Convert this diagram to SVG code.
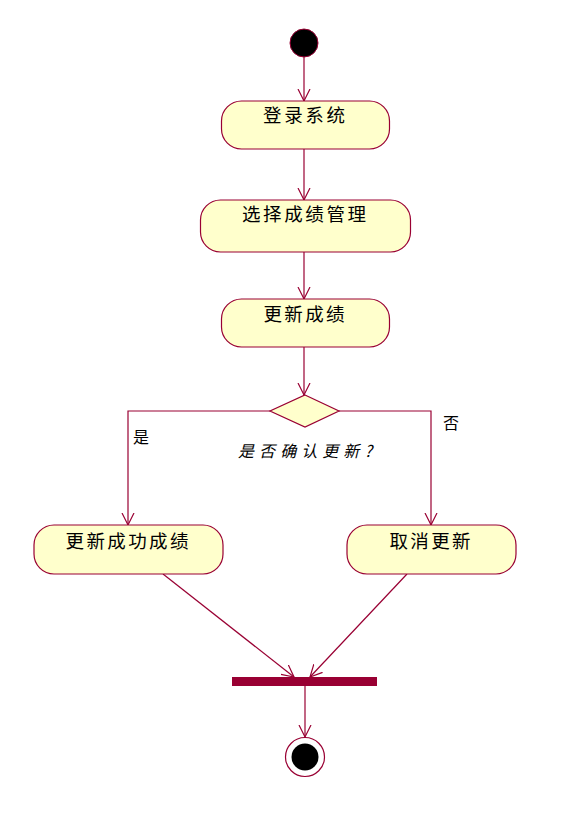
<svg xmlns="http://www.w3.org/2000/svg" width="572" height="825" viewBox="0 0 572 825">
<defs>
<style>
.act{fill:#ffffcc;stroke:#990033;stroke-width:1.2}
.lbl{font-family:"Noto Sans CJK SC","Noto Sans",sans-serif;font-size:18.5px;fill:#000;text-anchor:middle}
.g{font-family:"Noto Sans CJK SC","Noto Sans",sans-serif;font-size:16px;fill:#000}
.ln{fill:none;stroke:#990033;stroke-width:1.2}
</style>
<marker id="arr" markerWidth="16" markerHeight="16" refX="12" refY="6" orient="auto" markerUnits="userSpaceOnUse" viewBox="0 0 16 12">
<path d="M0,0 L12,6 L0,12" fill="none" stroke="#990033" stroke-width="1.2"/>
</marker>
</defs>
<rect width="572" height="825" fill="#fff"/>
<g id="connectors">
<line class="ln" x1="304" y1="57" x2="304" y2="101" marker-end="url(#arr)"/>
<line class="ln" x1="304" y1="149" x2="304" y2="200" marker-end="url(#arr)"/>
<line class="ln" x1="304" y1="252" x2="304" y2="299" marker-end="url(#arr)"/>
<line class="ln" x1="304" y1="347" x2="304" y2="395" marker-end="url(#arr)"/>
<polyline class="ln" points="270,411 128,411 128,525" marker-end="url(#arr)"/>
<polyline class="ln" points="339,411 431,411 431,525" marker-end="url(#arr)"/>
<line class="ln" x1="163" y1="574" x2="294" y2="677" marker-end="url(#arr)"/>
<line class="ln" x1="407" y1="574" x2="310" y2="677" marker-end="url(#arr)"/>
<line class="ln" x1="305" y1="686" x2="305" y2="737" marker-end="url(#arr)"/>
</g>
<g id="start"><circle cx="304" cy="43" r="14" fill="#000" stroke="#990033" stroke-width="1"/></g>
<g id="n1"><rect class="act" x="221.5" y="101" width="168" height="48" rx="20" ry="20"/><text class="lbl" x="304" y="121.5" textLength="82" lengthAdjust="spacing">登录系统</text></g>
<g id="n2"><rect class="act" x="200.5" y="200" width="210" height="52" rx="20" ry="20"/><text class="lbl" x="304" y="221" textLength="124" lengthAdjust="spacing">选择成绩管理</text></g>
<g id="n3"><rect class="act" x="221.5" y="299" width="168" height="48" rx="20" ry="20"/><text class="lbl" x="304" y="320.5" textLength="81" lengthAdjust="spacing">更新成绩</text></g>
<g id="decision"><polygon class="act" points="305,395 339,411 305,427 270,411"/>
<text class="g" x="305" y="456.5" text-anchor="middle" font-style="italic" textLength="134" lengthAdjust="spacing">是否确认更新?</text></g>
<g id="lblyes"><text class="g" x="141" y="443" text-anchor="middle">是</text></g>
<g id="lblno"><text class="g" x="451" y="429" text-anchor="middle">否</text></g>
<g id="n4"><rect class="act" x="34" y="525" width="189" height="49" rx="20" ry="20"/><text class="lbl" x="127" y="547.5" textLength="123" lengthAdjust="spacing">更新成功成绩</text></g>
<g id="n5"><rect class="act" x="347" y="525" width="169" height="49" rx="20" ry="20"/><text class="lbl" x="430" y="547.5" textLength="81" lengthAdjust="spacing">取消更新</text></g>
<g id="join"><rect x="232" y="677" width="145" height="9" fill="#990033"/></g>
<g id="end"><circle cx="305" cy="757" r="19.5" fill="#fff" stroke="#990033" stroke-width="1.2"/><circle cx="305" cy="757" r="13.5" fill="#000"/></g>
</svg>
